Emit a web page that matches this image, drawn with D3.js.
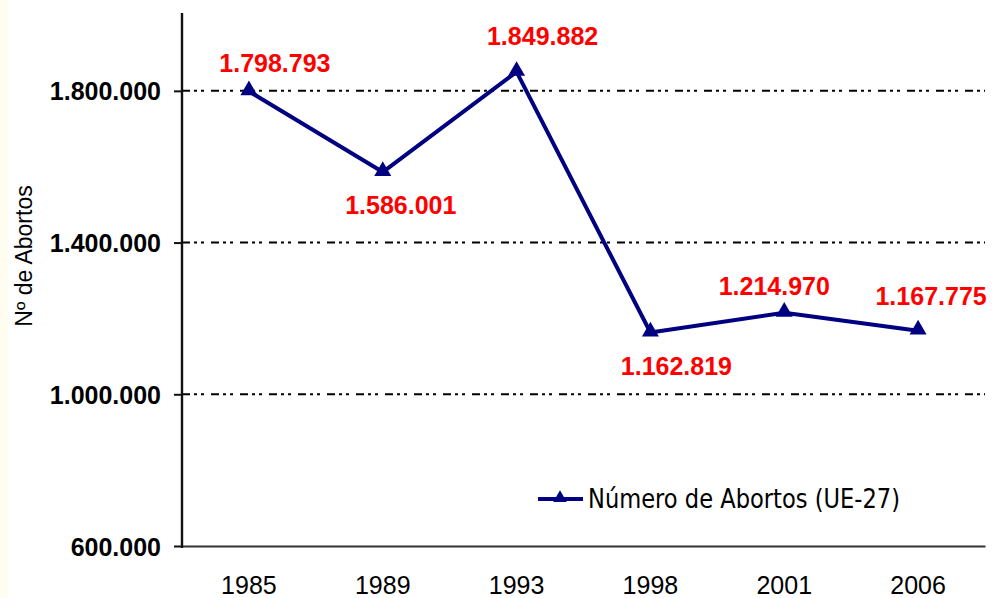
<!DOCTYPE html>
<html>
<head>
<meta charset="utf-8">
<script src="https://cdn.jsdelivr.net/npm/d3@7"></script>
<style>
  body { margin: 0; background: #fff; }
</style>
</head>
<body>
<div id="my_dataviz"></div>
<script>
// chart data
var years = ["1985", "1989", "1993", "1998", "2001", "2006"];
var abortos = [1798793, 1586001, 1849882, 1162819, 1214970, 1167775];
var yTicks = [600000, 1000000, 1400000, 1800000];
var seriesName = "Número de Abortos (UE-27)";

// hand placed data labels (dx, dy from the point), like the original
var labelNudge = [[26, -19], [18, 42], [26, -27], [26, 42], [-10, -18], [13, -26]];

var W = 992, H = 598;

var svg = d3
  .select("#my_dataviz")
  .append("svg")
  .attr("width", W)
  .attr("height", H);

svg.append("rect").attr("width", W).attr("height", H).attr("fill", "#fff");
// faint cream strip on the left edge
svg.append("rect").attr("width", 8).attr("height", H).attr("fill", "#fffdf0");

var es = d3.formatLocale({ decimal: ",", thousands: ".", grouping: [3], currency: ["", ""] });
var fmt = es.format(",d");

var x = d3.scaleBand().domain(years).range([182, 985]);
var y = d3.scaleLinear().domain([600000, 2000000]).range([546, 15]);

// grid lines
svg
  .append("g")
  .selectAll("line")
  .data(yTicks.slice(1))
  .enter()
  .append("line")
  .attr("x1", 182)
  .attr("x2", 985)
  .attr("y1", function (d) { return y(d); })
  .attr("y2", function (d) { return y(d); })
  .attr("stroke", "#000")
  .attr("stroke-width", 2)
  .attr("stroke-dasharray", "8,4,3,4,3,7");

// x axis
var gx = svg
  .append("g")
  .attr("transform", "translate(0,546)")
  .call(d3.axisBottom(x).tickSize(0).tickSizeOuter(0));
gx.select(".domain").attr("stroke", "#333").attr("stroke-width", 2);
gx.selectAll("text")
  .attr("y", 48)
  .attr("dy", 0)
  .attr("fill", "#000")
  .style("font-family", "'Liberation Sans', Arial, sans-serif")
  .style("font-size", "25px");

// y axis
var gy = svg
  .append("g")
  .attr("transform", "translate(182,0)")
  .call(d3.axisLeft(y).tickValues(yTicks).tickFormat(fmt).tickSize(8).tickSizeOuter(0).tickPadding(13));
gy.select(".domain").attr("stroke", "#111").attr("stroke-width", 2.4).attr("d", "M0,13V548");
gy.selectAll(".tick line").attr("stroke", "#111").attr("stroke-width", 2);
gy.selectAll("text")
  .attr("dy", 9)
  .attr("fill", "#000")
  .style("font-family", "'Liberation Sans', Arial, sans-serif")
  .style("font-size", "25px")
  .style("font-weight", "bold");

// y axis title
svg
  .append("text")
  .attr("transform", "translate(32,256) rotate(-90)")
  .style("text-anchor", "middle")
  .style("font-family", "'Liberation Sans', Arial, sans-serif")
  .style("font-size", "23px")
  .text("Nº de Abortos");

// series line
var points = years.map(function (d, i) { return { year: d, value: abortos[i], i: i }; });
var cx = function (d) { return x(d.year) + x.bandwidth() / 2; };

svg
  .append("path")
  .datum(points)
  .attr("fill", "none")
  .attr("stroke", "#000080")
  .attr("stroke-width", 4)
  .attr("stroke-linejoin", "round")
  .attr("d", d3.line().x(cx).y(function (d) { return y(d.value); }));

svg
  .append("g")
  .selectAll("path")
  .data(points)
  .enter()
  .append("path")
  .attr("d", d3.symbol().type(d3.symbolTriangle).size(125))
  .attr("transform", function (d) { return "translate(" + cx(d) + "," + (y(d.value) - 1) + ")"; })
  .attr("fill", "#000080");

// data labels
svg
  .append("g")
  .selectAll("text")
  .data(points)
  .enter()
  .append("text")
  .attr("x", function (d) { return cx(d) + labelNudge[d.i][0]; })
  .attr("y", function (d) { return y(d.value) + labelNudge[d.i][1]; })
  .style("text-anchor", "middle")
  .style("font-family", "'Liberation Sans', Arial, sans-serif")
  .style("font-size", "25px")
  .style("font-weight", "bold")
  .attr("fill", "#ff0000")
  .text(function (d) { return fmt(d.value); });

// legend
var lg = svg.append("g");
lg.append("line")
  .attr("x1", 538).attr("x2", 583)
  .attr("y1", 499).attr("y2", 499)
  .attr("stroke", "#000080")
  .attr("stroke-width", 4);
lg.append("path")
  .attr("d", d3.symbol().type(d3.symbolTriangle).size(80))
  .attr("transform", "translate(560,498)")
  .attr("fill", "#000080");
lg.append("text")
  .attr("x", 588)
  .attr("y", 508)
  .attr("textLength", 312)
  .attr("lengthAdjust", "spacingAndGlyphs")
  .style("font-family", "'DejaVu Sans', sans-serif")
  .style("font-size", "26px")
  .attr("fill", "#000")
  .text(seriesName);
</script>
</body>
</html>
